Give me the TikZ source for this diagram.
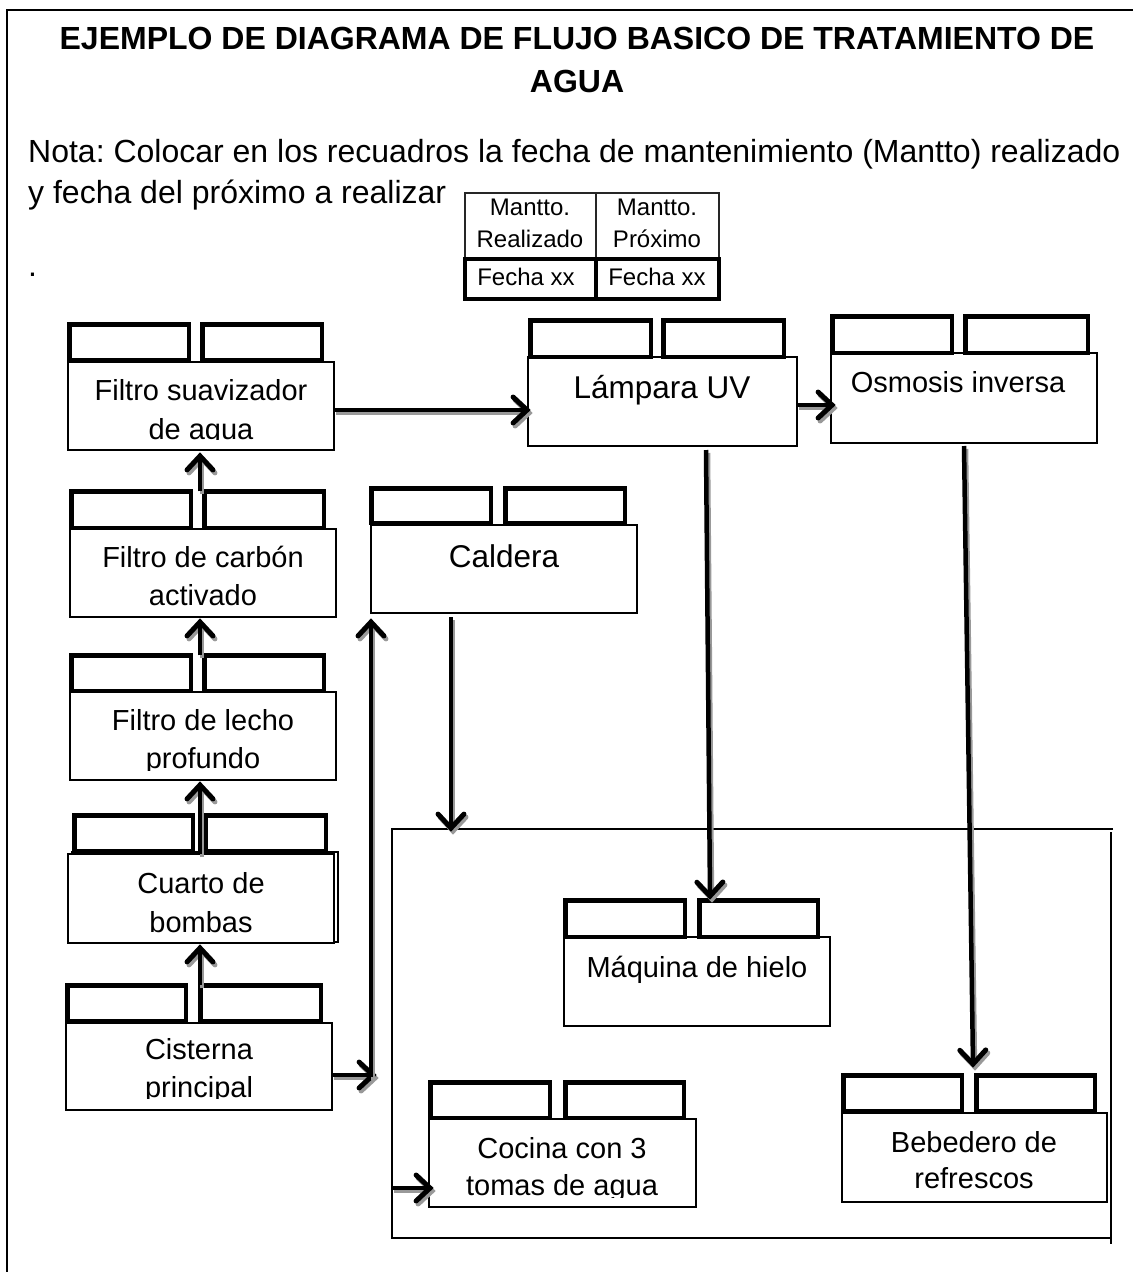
\documentclass[tikz,border=0pt]{standalone}
\usepackage{fontspec}
\setmainfont{Liberation Sans}
\usetikzlibrary{calc}
\frenchspacing

% main process box: name, x1, y1, x2, y2 (outer corners, y downwards)
\newcommand\procbox[5]{%
  \node[mainbox, anchor=north west, minimum width={(#4)-(#2)},
        minimum height={(#5)-(#3)}] (#1) at (#2,#3) {};}
% thick date box above a process box
\newcommand\datebox[5]{%
  \node[datecell, anchor=north west, minimum width={(#4)-(#2)-4.5},
        minimum height={(#5)-(#3)-4.5}] (#1) at ({#2+2.25},{#3+2.25}) {};}
% one arrow (shaft and open barbed head) in a given style
\newcommand\arrowbody[1]{%
  \draw[#1] (fa-s) -- (fa-e);
  \draw[#1, line width=5pt, line join=miter, line cap=round]
    ($(fa-e)!19pt!43:(fa-s)$) -- (fa-e) -- ($(fa-e)!19pt!-43:(fa-s)$);}
% arrow with its grey drop shadow
\newcommand\flowarrow[2]{%
  \coordinate (fa-s) at #1;
  \coordinate (fa-e) at #2;
  \begin{scope}[transform canvas={shift={(2pt,-3pt)}}]
    \arrowbody{flowshade}
  \end{scope}
  \arrowbody{flow}}

\begin{document}
\begin{tikzpicture}[x=1pt,y=-1pt,
  mainbox/.style={rectangle, draw=black, line width=1.5pt, fill=white,
                  inner sep=0pt, outer sep=0pt},
  datecell/.style={rectangle, draw=black, line width=4.5pt, fill=white,
                   inner sep=0pt, outer sep=0pt},
  thincell/.style={rectangle, draw=black!85, line width=1.3pt,
                   inner sep=0pt, outer sep=0pt, anchor=north west},
  thickcell/.style={rectangle, draw=black, line width=4pt,
                    inner sep=0pt, outer sep=0pt, anchor=north west},
  flow/.style={draw=black, line width=4.5pt},
  flowshade/.style={draw=black!40, line width=4.5pt},
  lbl/.style={anchor=base, inner sep=0pt, font=\fontsize{29}{35}\selectfont},
  lblbig/.style={anchor=base, inner sep=0pt, font=\fontsize{31.5}{38}\selectfont},
  tbl/.style={anchor=base, inner sep=0pt, font=\fontsize{24}{29}\selectfont},
]
\useasboundingbox (0,0) rectangle (1133,1272);
\fill[white] (0,0) rectangle (1133,1272);

% page frame
\draw[line width=1.5pt] (7,1272) -- (7,10) -- (1133,10);

% heading and note
\node[anchor=base, inner sep=0pt, font=\bfseries\fontsize{32}{38}\selectfont] (title1) at (577,49)
  {EJEMPLO DE DIAGRAMA DE FLUJO BASICO DE TRATAMIENTO DE};
\node[anchor=base, inner sep=0pt, font=\bfseries\fontsize{32}{38}\selectfont] (title2) at (577,92) {AGUA};
\node[anchor=base west, inner sep=0pt, font=\fontsize{32}{38}\selectfont] (nota1) at (28,162)
  {Nota: Colocar en los recuadros la fecha de mantenimiento (Mantto) realizado};
\node[anchor=base west, inner sep=0pt, font=\fontsize{32}{38}\selectfont] (nota2) at (28,203)
  {y fecha del próximo a realizar};
\node[anchor=base west, inner sep=0pt, font=\fontsize{32}{38}\selectfont] (dot) at (28,276) {.};

% legend table
\node[thincell, minimum width=131pt, minimum height=66pt] (lgh1) at (465,193) {};
\node[thincell, minimum width=123pt, minimum height=66pt] (lgh2) at (596,193) {};
\node[thickcell, minimum width=131pt, minimum height=40pt] (lgd1) at (465,259) {};
\node[thickcell, minimum width=123pt, minimum height=40pt] (lgd2) at (596,259) {};
\node[tbl] (lgt1) at (530,215) {Mantto.};
\node[tbl] (lgt2) at (530,247) {Realizado};
\node[tbl] (lgt3) at (657,215) {Mantto.};
\node[tbl] (lgt4) at (657,247) {Próximo};
\node[tbl] (lgt5) at (526,285) {Fecha xx};
\node[tbl] (lgt6) at (657,285) {Fecha xx};

% area served by the boiler and the UV / RO lines
\draw[line width=2pt] (1113,829) -- (392,829) -- (392,1238) -- (1112,1238);
\draw[line width=2pt] (1111,832) -- (1111,1244);

% left column: supply chain
\procbox{fsuav}{68}{362}{334}{450}
\datebox{fsuav-a}{67}{322}{191}{362}
\datebox{fsuav-b}{200}{322}{324}{362}
\node[lbl] (fsuav-t1) at (201,400) {Filtro suavizador};
\begin{scope}
  \clip (68,362) rectangle (334,439);
  \node[lbl] (fsuav-t2) at (201,439) {de agua};
\end{scope}

\procbox{carbon}{70}{529}{336}{617}
\datebox{carbon-a}{69}{489}{193}{530}
\datebox{carbon-b}{202}{489}{326}{530}
\node[lbl] (carbon-t1) at (203,567) {Filtro de carbón};
\node[lbl] (carbon-t2) at (203,605) {activado};

\procbox{lecho}{70}{692}{336}{780}
\datebox{lecho-a}{69}{653}{193}{693}
\datebox{lecho-b}{202}{653}{326}{693}
\node[lbl] (lecho-t1) at (203,730) {Filtro de lecho};
\begin{scope}
  \clip (70,692) rectangle (336,770);
  \node[lbl] (lecho-t2) at (203,768) {profundo};
\end{scope}

\node[mainbox, anchor=north west, minimum width=266pt, minimum height=90pt] (cuarto-edge) at (72,852) {};
\procbox{cuarto}{68}{854}{334}{943}
\datebox{cuarto-a}{72}{813}{195}{853}
\datebox{cuarto-b}{203}{813}{328}{853}
\node[lbl] (cuarto-t1) at (201,893) {Cuarto de};
\node[lbl] (cuarto-t2) at (201,932) {bombas};

\procbox{cisterna}{66}{1023}{332}{1110}
\datebox{cisterna-a}{65}{983}{188}{1023}
\datebox{cisterna-b}{198}{983}{323}{1023}
\node[lbl] (cisterna-t1) at (199,1059) {Cisterna};
\begin{scope}
  \clip (66,1023) rectangle (332,1098);
  \node[lbl] (cisterna-t2) at (199,1097) {principal};
\end{scope}

% upper row
\procbox{lampara}{528}{357}{797}{446}
\datebox{lampara-a}{528}{318}{653}{359}
\datebox{lampara-b}{661}{318}{786}{359}
\node[lblbig] (lampara-t) at (662,398) {Lámpara UV};

\procbox{osmosis}{831}{353}{1097}{443}
\datebox{osmosis-a}{830}{314}{954}{355}
\datebox{osmosis-b}{963}{314}{1090}{355}
\node[lbl] (osmosis-t) at (958,392) {Osmosis inversa};

\procbox{caldera}{371}{525}{637}{613}
\datebox{caldera-a}{369}{486}{493}{525}
\datebox{caldera-b}{503}{486}{627}{525}
\node[lblbig] (caldera-t) at (504,567) {Caldera};

% points of use
\procbox{maquina}{564}{937}{830}{1026}
\datebox{maquina-a}{563}{898}{687}{939}
\datebox{maquina-b}{697}{898}{820}{939}
\node[lbl] (maquina-t) at (697,977) {Máquina de hielo};

\procbox{cocina}{429}{1119}{696}{1207}
\datebox{cocina-a}{428}{1080}{552}{1120}
\datebox{cocina-b}{563}{1080}{686}{1120}
\node[lbl] (cocina-t1) at (562,1158) {Cocina con 3};
\begin{scope}
  \clip (429,1119) rectangle (696,1197);
  \node[lbl] (cocina-t2) at (562,1195) {tomas de agua};
\end{scope}

\procbox{bebedero}{842}{1113}{1107}{1202}
\datebox{bebedero-a}{841}{1073}{964}{1113}
\datebox{bebedero-b}{974}{1073}{1097}{1113}
\node[lbl] (bebedero-t1) at (974,1152) {Bebedero de};
\node[lbl] (bebedero-t2) at (974,1188) {refrescos};

% connector end points
\coordinate (in-fsuav) at (200,456);
\coordinate (in-carbon) at (200,622);
\coordinate (in-lecho) at (200,785);
\coordinate (in-cuarto) at (200,948);
\coordinate (riser-foot) at (373,1075);
\coordinate (riser-base) at (371,1077);
\coordinate (riser-top) at (371,622);
\coordinate (row-uv) at (0,410);
\coordinate (row-ro) at (0,405);
\coordinate (cal-out) at (451,617);
\coordinate (zone-in) at (451,828);
\coordinate (uv-out) at (706,450);
\coordinate (hielo-in) at (710,896);
\coordinate (ro-out) at (964,446);
\coordinate (refresco-in) at (973,1064);
\coordinate (cocina-feed) at (392,1188);

% flow connectors
\flowarrow{(carbon-a.north -| in-fsuav)}{(in-fsuav)}
\flowarrow{(lecho-a.north -| in-carbon)}{(in-carbon)}
\flowarrow{(cuarto.north -| in-lecho)}{(in-lecho)}
\flowarrow{(cisterna-a.north -| in-cuarto)}{(in-cuarto)}
\flowarrow{(cisterna.east |- riser-foot)}{(riser-foot)}
\flowarrow{(riser-base)}{(riser-top)}
\flowarrow{(fsuav.east |- row-uv)}{([xshift=-1pt]lampara.west |- row-uv)}
\flowarrow{(lampara.east |- row-ro)}{([xshift=1pt]osmosis.west |- row-ro)}
\flowarrow{(cal-out)}{(zone-in)}
\flowarrow{(uv-out)}{(hielo-in)}
\flowarrow{(ro-out)}{(refresco-in)}
\flowarrow{(cocina-feed)}{([xshift=1pt]cocina.west |- cocina-feed)}
\end{tikzpicture}
\end{document}
